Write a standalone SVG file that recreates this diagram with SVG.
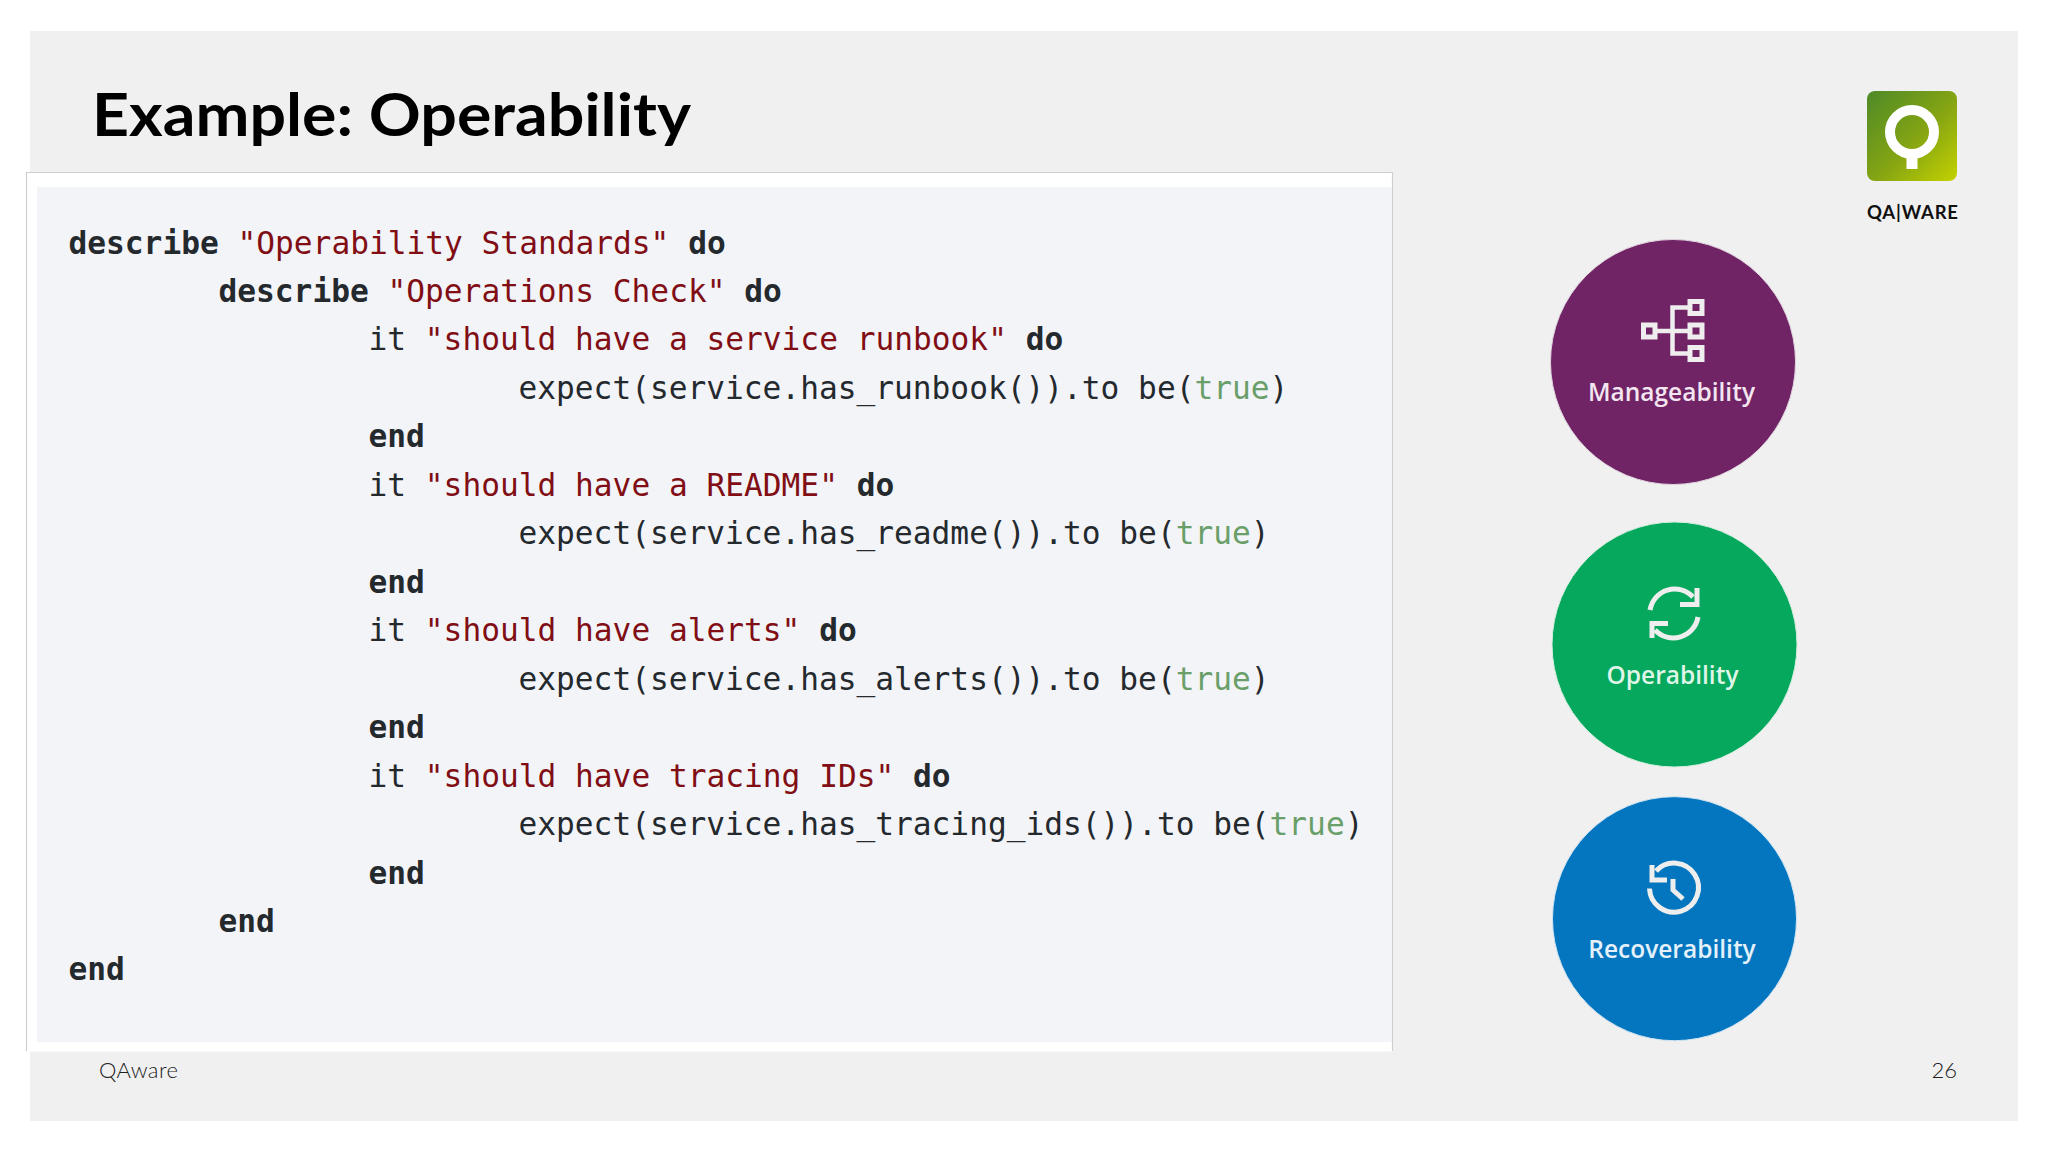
<svg xmlns="http://www.w3.org/2000/svg" width="2048" height="1152" viewBox="0 0 2048 1152">
<defs>
<linearGradient id="logoGrad" x1="0" y1="0" x2="1" y2="1"><stop offset="0" stop-color="#4e8a28"/><stop offset="0.55" stop-color="#86a512"/><stop offset="1" stop-color="#c4d200"/></linearGradient>
</defs>
<style>
.code{font-family:"DejaVu Sans Mono","Liberation Mono",monospace;font-size:31.2px;fill:#24292e;white-space:pre}
.k{font-weight:700}
.s{fill:#800e14}
.t{fill:#6a9f6a}
.cap{font-family:"Open Sans","Noto Sans",sans-serif;font-size:24.5px;font-weight:600;text-anchor:middle}
.ico{fill:none;stroke:#eeeeee;stroke-width:5}
.title{font-family:"Lato","Liberation Sans",sans-serif;font-weight:700;font-size:60px;fill:#000}
.foot{font-family:"Lato","Liberation Sans",sans-serif;font-weight:300;font-size:22px;fill:#222}
</style>
<rect width="2048" height="1152" fill="#fff"/>
<rect x="30" y="31" width="1988" height="1090" fill="#f0f0f0"/>
<text id="title" class="title" x="92" y="136" textLength="599" lengthAdjust="spacingAndGlyphs">Example: Operability</text>
<g id="code-panel">
<rect x="26.5" y="172.5" width="1366" height="879" fill="#fff"/>
<path d="M26.5 1051V172.5H1392.5V1051" fill="none" stroke="#cfcfcf" stroke-width="1.2"/>
<rect x="37" y="187" width="1355" height="855" fill="#f3f4f8"/>
<text class="code" xml:space="preserve"><tspan x="68.500" y="253.500"><tspan class="k">describe</tspan> <tspan class="s">"Operability Standards"</tspan> <tspan class="k">do</tspan></tspan>
<tspan x="218.500" y="301.800"><tspan class="k">describe</tspan> <tspan class="s">"Operations Check"</tspan> <tspan class="k">do</tspan></tspan>
<tspan x="368.500" y="350.300">it <tspan class="s">"should have a service runbook"</tspan> <tspan class="k">do</tspan></tspan>
<tspan x="518.500" y="398.800">expect(service.has_runbook()).to be(<tspan class="t">true</tspan>)</tspan>
<tspan x="368.500" y="447.300" class="k">end</tspan>
<tspan x="368.500" y="495.800">it <tspan class="s">"should have a README"</tspan> <tspan class="k">do</tspan></tspan>
<tspan x="518.500" y="544.300">expect(service.has_readme()).to be(<tspan class="t">true</tspan>)</tspan>
<tspan x="368.500" y="592.800" class="k">end</tspan>
<tspan x="368.500" y="641.300">it <tspan class="s">"should have alerts"</tspan> <tspan class="k">do</tspan></tspan>
<tspan x="518.500" y="689.800">expect(service.has_alerts()).to be(<tspan class="t">true</tspan>)</tspan>
<tspan x="368.500" y="738.300" class="k">end</tspan>
<tspan x="368.500" y="786.800">it <tspan class="s">"should have tracing IDs"</tspan> <tspan class="k">do</tspan></tspan>
<tspan x="518.500" y="835.300">expect(service.has_tracing_ids()).to be(<tspan class="t">true</tspan>)</tspan>
<tspan x="368.500" y="883.800" class="k">end</tspan>
<tspan x="218.500" y="932" class="k">end</tspan>
<tspan x="68.500" y="980.300" class="k">end</tspan></text>
</g>
<g id="logo">
<rect x="1867" y="91" width="90" height="90" rx="8" fill="url(#logoGrad)"/>
<circle cx="1912" cy="132" r="22" fill="none" stroke="#fff" stroke-width="10"/>
<rect x="1906.500" y="155" width="11" height="14" fill="#fff"/>
<text x="1867" y="218.500" font-family="Lato,'Liberation Sans',sans-serif" font-weight="700" font-size="18.500" fill="#111" textLength="91" lengthAdjust="spacing">QA|WARE</text>
</g>
<g id="manageability">
<circle cx="1673" cy="362" r="122.500" fill="#702365" stroke="#e0d4de" stroke-width="1"/>
<g class="ico">
<rect x="1643.500" y="325" width="11.500" height="12"/><rect x="1690" y="301.500" width="12" height="12"/><rect x="1690" y="325" width="12" height="12"/><rect x="1690" y="347.500" width="12" height="12"/>
<path d="M1655 331H1690M1690 307.500H1672.500V353.500H1690" stroke-width="4.500"/>
</g>
<text class="cap" x="1671.500" y="401" fill="#f3e6f0">Manageability</text>
</g>
<g id="operability">
<circle cx="1674.500" cy="644.500" r="122.500" fill="#05a85c" stroke="#d8efe2" stroke-width="1"/>
<g class="ico">
<path d="M1650 610A25 25 0 0 1 1693 597"/>
<path d="M1697 588V604.500H1680"/>
<path d="M1698 617A25 25 0 0 1 1655 630"/>
<path d="M1652 638V623.500H1668"/>
</g>
<text class="cap" x="1672.500" y="684" fill="#dff5e8">Operability</text>
</g>
<g id="recoverability">
<circle cx="1674.500" cy="918.700" r="122" fill="#0476bf" stroke="#cfe4f2" stroke-width="1"/>
<g class="ico">
<path d="M1656 871A24.500 24.500 0 1 1 1649.500 888.500"/>
<path d="M1652 865V880H1667"/>
<path d="M1673 879V890L1683 899"/>
</g>
<text class="cap" x="1672" y="958" fill="#e4f1fa">Recoverability</text>
</g>
<text id="footer" class="foot" x="99" y="1078" textLength="79" lengthAdjust="spacing">QAware</text>
<text id="page" class="foot" x="1957" y="1078" text-anchor="end">26</text>
</svg>
